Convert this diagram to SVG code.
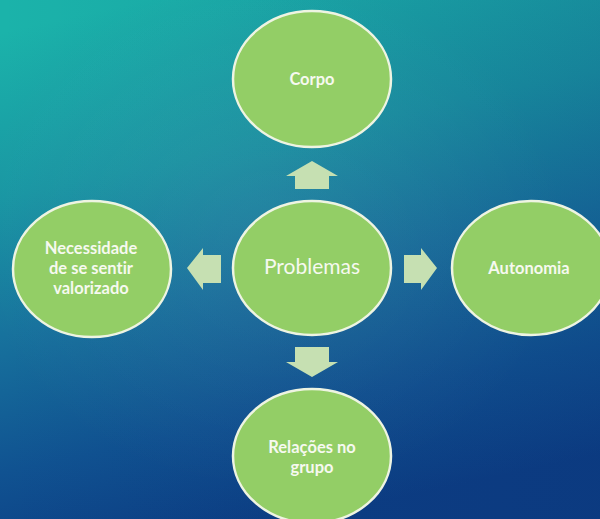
<svg xmlns="http://www.w3.org/2000/svg" width="600" height="519" viewBox="0 0 600 519">
<defs>
<linearGradient id="bg" x1="0.25" y1="0" x2="0.5" y2="1">
<stop offset="0" stop-color="#1bb3aa"/>
<stop offset="0.3" stop-color="#1996a3"/>
<stop offset="0.55" stop-color="#17729d"/>
<stop offset="0.8" stop-color="#105291"/>
<stop offset="1" stop-color="#0c3e84"/>
</linearGradient>
<linearGradient id="shade" x1="0" y1="0" x2="1" y2="0">
<stop offset="0" stop-color="#0a2a70" stop-opacity="0"/>
<stop offset="1" stop-color="#0a2a70" stop-opacity="0.18"/>
</linearGradient>
<radialGradient id="glow" cx="0.45" cy="0.45" r="0.5">
<stop offset="0" stop-color="#ffffff" stop-opacity="0.06"/>
<stop offset="1" stop-color="#ffffff" stop-opacity="0"/>
</radialGradient>
</defs>
<style>
.node ellipse{fill:#93ce66;stroke:#eef4e2;stroke-width:2.5}
.node text{fill:#f6f9f0;font-family:Lato,"Open Sans",sans-serif;font-size:16.5px;font-weight:700;text-anchor:middle;font-variant-ligatures:none;font-feature-settings:"liga" 0}
.node text.big{font-size:21px;font-weight:400}
.arrow{fill:#c6e0b2}
</style>
<rect width="600" height="519" fill="url(#bg)"/>
<rect width="600" height="519" fill="url(#shade)"/>
<rect width="600" height="519" fill="url(#glow)"/>
<g id="connectors">
<polygon class="arrow" points="312,161 338,176 329,176 329,189 295,189 295,176 286,176"/>
<polygon class="arrow" points="295,347 329,347 329,362 338,362 312,377 286,362 295,362"/>
<polygon class="arrow" points="187,268 203,248 203,255 221,255 221,283 203,283 203,290"/>
<polygon class="arrow" points="437,268 421,248 421,255 404,255 404,283 421,283 421,290"/>
</g>
<g id="node-corpo" class="node">
<ellipse cx="312" cy="79" rx="79" ry="68"/>
<text x="312" y="85">Corpo</text>
</g>
<g id="node-problemas" class="node">
<ellipse cx="312" cy="268" rx="79" ry="67"/>
<text class="big" x="312" y="274">Problemas</text>
</g>
<g id="node-necessidade" class="node">
<ellipse cx="92" cy="269" rx="79" ry="68"/>
<text x="91" y="254">Necessidade</text>
<text x="91" y="274">de se sentir</text>
<text x="91" y="294">valorizado</text>
</g>
<g id="node-autonomia" class="node">
<ellipse cx="531" cy="268" rx="79" ry="67"/>
<text x="529" y="274">Autonomia</text>
</g>
<g id="node-relacoes" class="node">
<ellipse cx="312" cy="456" rx="79" ry="67"/>
<text x="312" y="453">Relações no</text>
<text x="312" y="473">grupo</text>
</g>
</svg>
